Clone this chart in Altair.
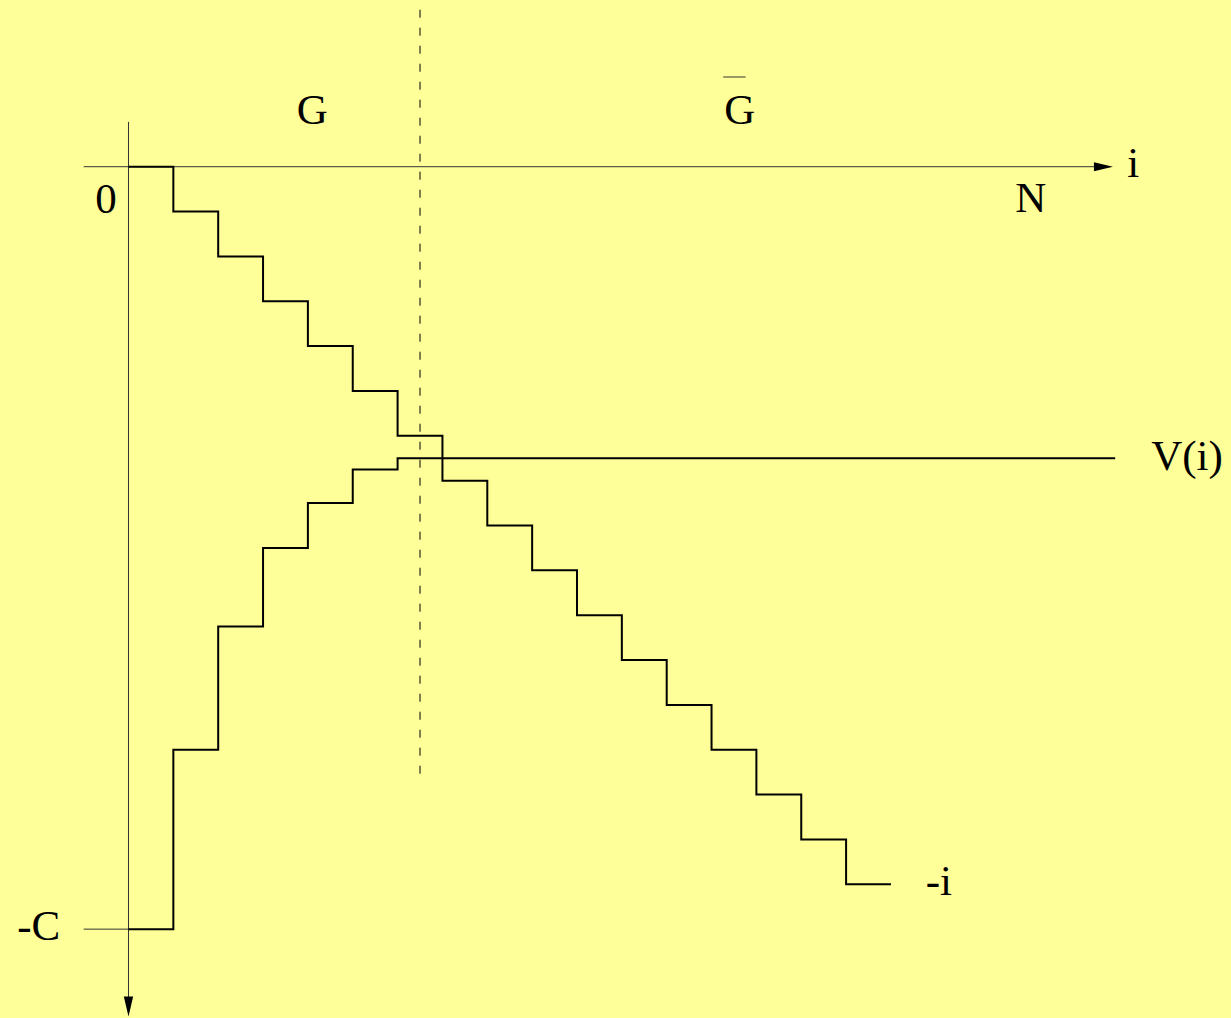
import altair as alt
import pandas as pd

# Step index i along the horizontal axis
steps = list(range(0, 18))
# Descending staircase -i (last level repeated to close the final tread)
minus_i = [0, -1, -2, -3, -4, -5, -6, -7, -8, -9, -10, -11, -12, -13, -14, -15, -16, -16]

# V(i): climbs from -C and levels off from i = 6 onwards
v_steps = [0, 1, 2, 3, 4, 5, 6, 22]
v_values = [-17, -13, -10.25, -8.5, -7.5, -6.75, -6.5, -6.5]

C = 17          # height of the initial cost
I_END = 21.95   # end of the i axis (arrow tip)
V_END = -18.95  # end of the value axis (arrow tip)
SPLIT = 6.5     # boundary between G and G-bar

# Annotation texts and their anchor points (baseline, centred)
labels = ["0", "N", "i", "G", "G", "V(i)", "-i", "-C"]
label_x = [-0.5, 20.12, 22.4, 4.1, 13.63, 23.6, 18.07, -2.0]
label_y = [-1.03, -1.0, -0.23, 0.95, 0.95, -6.76, -16.23, -17.24]

# Shared linear scales (one unit = one step)
xs = alt.Scale(domain=[-2.865, 24.582], nice=False, zero=False)
ys = alt.Scale(domain=[-18.981, 3.717], nice=False, zero=False)


def X(field):
    return alt.X(f"{field}:Q", scale=xs, axis=None)


def Y(field):
    return alt.Y(f"{field}:Q", scale=ys, axis=None)


# Thin axis lines, the -C tick and the bar over the second G
axes_df = pd.DataFrame({
    "x": [-1, 0, -1, 13.26],
    "y": [0, 1, -C, 2.0],
    "x2": [I_END - 0.3, 0, 0, 13.76],
    "y2": [0, V_END + 0.3, -C, 2.0],
})
axes = alt.Chart(axes_df).mark_rule(color="#333333", strokeWidth=1).encode(
    x=X("x"), y=Y("y"), x2="x2:Q", y2="y2:Q"
)

# Arrow heads at the ends of both axes
arrow_right = alt.Chart(pd.DataFrame({"x": [I_END], "y": [0]})).mark_point(
    shape="M0,0L-2,-0.47L-2,0.47Z", size=361, filled=True, color="black", opacity=1
).encode(x=X("x"), y=Y("y"))
arrow_down = alt.Chart(pd.DataFrame({"x": [0], "y": [V_END]})).mark_point(
    shape="M0,0L-0.47,-2L0.47,-2Z", size=400, filled=True, color="black", opacity=1
).encode(x=X("x"), y=Y("y"))

# Dashed separator between G and G-bar
split_df = pd.DataFrame({"x": [SPLIT], "y": [3.5], "y2": [-13.75]})
split = alt.Chart(split_df).mark_rule(
    color="black", strokeWidth=1, strokeDash=[8, 10]
).encode(x=X("x"), y=Y("y"), y2="y2:Q")

# Staircase -i
stair_df = pd.DataFrame({"x": steps, "y": minus_i})
stair = alt.Chart(stair_df).mark_line(
    interpolate="step-after", color="black", strokeWidth=2
).encode(x=X("x"), y=Y("y"))

# Staircase V(i)
v_df = pd.DataFrame({"x": v_steps, "y": v_values})
vline = alt.Chart(v_df).mark_line(
    interpolate="step-after", color="black", strokeWidth=2
).encode(x=X("x"), y=Y("y"))

# Text annotations
text_df = pd.DataFrame({"label": labels, "x": label_x, "y": label_y})
texts = alt.Chart(text_df).mark_text(
    font="Liberation Serif", fontSize=43, color="black",
    align="center", baseline="alphabetic"
).encode(x=X("x"), y=Y("y"), text="label:N")

chart = alt.layer(axes, split, stair, vline, arrow_right, arrow_down, texts).properties(
    width=1231,
    height=1018,
    background="#ffff99",
    padding=0,
    autosize=alt.AutoSizeParams(type="none"),
).configure_view(stroke=None)

chart.save("out.html", embed_options={"renderer": "svg", "actions": False})
